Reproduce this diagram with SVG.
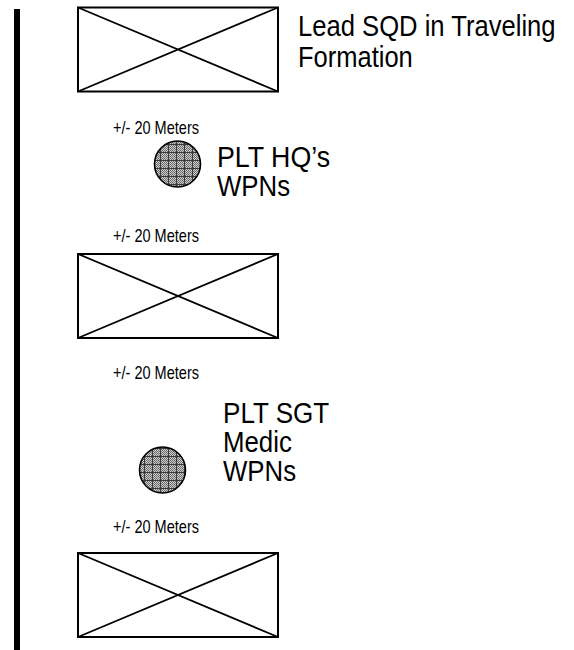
<svg xmlns="http://www.w3.org/2000/svg" width="574" height="650" viewBox="0 0 574 650">
  <style>
    .sqd { fill: #ffffff; stroke: #000000; stroke-width: 2; }
    .x { stroke: #000000; stroke-width: 1.8; fill: none; }
    .wpn { fill: url(#stipple); stroke: #000000; stroke-width: 1.6; }
    .big { font-family: "Liberation Sans", Arial, sans-serif; font-size: 30px; fill: #000000; }
    .dist { font-family: "Liberation Sans", Arial, sans-serif; font-size: 19px; fill: #000000; }
  </style>
  <defs>
    <pattern id="dither" width="2" height="2" patternUnits="userSpaceOnUse">
      <rect width="2" height="2" fill="#d0d0d0"/>
      <rect width="1" height="1" fill="#6a6a6a"/>
      <rect x="1" y="1" width="1" height="1" fill="#6a6a6a"/>
    </pattern>
    <pattern id="stipple" width="8" height="8" patternUnits="userSpaceOnUse" shape-rendering="crispEdges">
      <rect width="8" height="8" fill="url(#dither)"/>
      <rect width="8" height="1" fill="#3a3a3a"/>
      <rect width="1" height="8" fill="#3a3a3a"/>
    </pattern>
  </defs>

  <!-- march column boundary -->
  <rect x="14" y="9" width="6" height="641" fill="#000000"/>

  <!-- lead squad -->
  <g id="squad-lead">
    <rect class="sqd" x="78" y="7.5" width="200" height="84"/>
    <path class="x" d="M78 7.5 L278 91.5 M278 7.5 L78 91.5"/>
    <!-- condensed lettering: labels are squeezed horizontally -->
    <text class="big" transform="translate(298 36) scale(0.85 1)" textLength="303" lengthAdjust="spacingAndGlyphs">Lead SQD in Traveling</text>
    <text class="big" transform="translate(298 67) scale(0.85 1)" textLength="135" lengthAdjust="spacingAndGlyphs">Formation</text>
  </g>

  <g id="gap-1">
    <text class="dist" x="113" y="134" textLength="86" lengthAdjust="spacingAndGlyphs">+/- 20 Meters</text>
  </g>

  <!-- platoon HQ weapons -->
  <g id="plt-hq">
    <circle class="wpn" cx="177.5" cy="164" r="23"/>
    <text class="big" transform="translate(217 167) scale(0.85 1)" textLength="133" lengthAdjust="spacingAndGlyphs">PLT HQ’s</text>
    <text class="big" transform="translate(217 196) scale(0.85 1)" textLength="86" lengthAdjust="spacingAndGlyphs">WPNs</text>
  </g>

  <g id="gap-2">
    <text class="dist" x="113" y="242" textLength="86" lengthAdjust="spacingAndGlyphs">+/- 20 Meters</text>
  </g>

  <!-- second squad -->
  <g id="squad-2">
    <rect class="sqd" x="78" y="254" width="200" height="84"/>
    <path class="x" d="M78 254 L278 338 M278 254 L78 338"/>
  </g>

  <g id="gap-3">
    <text class="dist" x="113" y="379" textLength="86" lengthAdjust="spacingAndGlyphs">+/- 20 Meters</text>
  </g>

  <!-- platoon sergeant, medic, weapons -->
  <g id="plt-sgt">
    <circle class="wpn" cx="162.5" cy="470" r="23"/>
    <text class="big" transform="translate(223 423) scale(0.85 1)" textLength="125" lengthAdjust="spacingAndGlyphs">PLT SGT</text>
    <text class="big" transform="translate(223 452) scale(0.85 1)" textLength="81" lengthAdjust="spacingAndGlyphs">Medic</text>
    <text class="big" transform="translate(223 481) scale(0.85 1)" textLength="86" lengthAdjust="spacingAndGlyphs">WPNs</text>
  </g>

  <g id="gap-4">
    <text class="dist" x="113" y="533" textLength="86" lengthAdjust="spacingAndGlyphs">+/- 20 Meters</text>
  </g>

  <!-- trail squad -->
  <g id="squad-3">
    <rect class="sqd" x="78" y="553" width="200" height="84"/>
    <path class="x" d="M78 553 L278 637 M278 553 L78 637"/>
  </g>
</svg>
